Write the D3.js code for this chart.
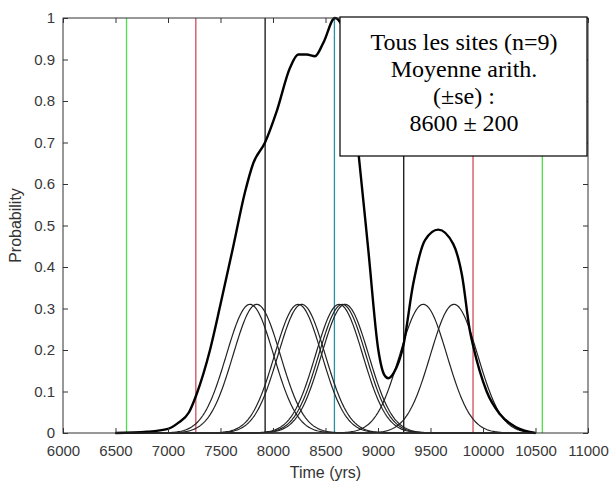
<!DOCTYPE html>
<html>
<head>
<meta charset="utf-8">
<script src="https://d3js.org/d3.v7.min.js"></script>
<style>
  body { margin: 0; background: #fff; }
  .axis text { font-family: "Liberation Sans", Arial, sans-serif; font-size: 15px; fill: #383838; }
  .axis path { display: none; }
  .axis line { stroke: #333; }
</style>
</head>
<body>
<div class="container"></div>
<script>
// values
var X_TICKS = [6000, 6500, 7000, 7500, 8000, 8500, 9000, 9500, 10000, 10500, 11000];
var Y_TICKS = [0, 0.1, 0.2, 0.3, 0.4, 0.5, 0.6, 0.7, 0.8, 0.9, 1];

// summed probability (thick curve)
var sumYears = [6500, 6800, 7000, 7100, 7200, 7273, 7400, 7500, 7622, 7733, 7812, 7924, 8035, 8162, 8241,
                8321, 8400, 8479, 8590, 8650, 8720, 8812, 8908, 9003, 9060, 9098, 9150, 9241, 9336, 9448,
                9574, 9717, 9800, 9876, 9906, 10035, 10162, 10321, 10500];
var sumProb  = [0, 0.003, 0.01, 0.025, 0.05, 0.094, 0.2, 0.31, 0.45, 0.58, 0.65, 0.70, 0.775, 0.88, 0.912,
                0.912, 0.908, 0.94, 1.0, 0.985, 0.88, 0.68, 0.44, 0.2, 0.14, 0.132, 0.145, 0.21, 0.36, 0.465,
                0.49, 0.455, 0.38, 0.245, 0.21, 0.10, 0.045, 0.013, 0];

// individual site dates (thin curves)
var siteDates = [7781, 7845, 8240, 8273, 8630, 8660, 8686, 9431, 9724];
var siteSigma = 225;
var sitePeak = 0.31;

// mean and +-1/2/3 sd reference lines
var refYears = [6605, 7265, 7925, 8585, 9245, 9905, 10565];
var refKinds = ['sd3', 'sd2', 'sd1', 'mean', 'sd1', 'sd2', 'sd3'];

var boxLines = ['Tous les sites (n=9)', 'Moyenne arith.', '(\u00b1se) :', '8600 \u00b1 200'];

const WIDTH = 611;
const HEIGHT = 483;
const MARGIN = {top: 18, right: 23, bottom: 50, left: 63};
const INNER_WIDTH = WIDTH - MARGIN.left - MARGIN.right;
const INNER_HEIGHT = HEIGHT - MARGIN.top - MARGIN.bottom;
const KIND_COLOR = {sd3: '#4be04b', sd2: '#d24a5c', sd1: '#111', mean: '#2a8ea0'};

var _svg, _g, _xScale, _yScale;

var translate = function (x, y) {
  return "translate(" + x + "," + y + ")";
};

var bell = function (mu) {
  return d3.range(6500, 10501, 10).map(function (t) {
    return [t, sitePeak * Math.exp(-(t - mu) * (t - mu) / (2 * siteSigma * siteSigma))];
  });
};

var onload = function () {
  _svg = d3.select('.container').append('svg')
    .attr('width', WIDTH)
    .attr('height', HEIGHT);

  _g = _svg.append('g').attr('transform', translate(MARGIN.left, MARGIN.top));

  _xScale = d3.scaleLinear().domain([6000, 11000]).range([0, INNER_WIDTH]);
  _yScale = d3.scaleLinear().domain([0, 1]).range([INNER_HEIGHT, 0]);

  // reference lines
  _g.selectAll('.ref').data(refYears).enter().append('line')
    .attr('x1', function (d) { return _xScale(d); })
    .attr('x2', function (d) { return _xScale(d); })
    .attr('y1', 0).attr('y2', INNER_HEIGHT)
    .attr('stroke', function (d, i) { return KIND_COLOR[refKinds[i]]; })
    .attr('stroke-width', 1.3);

  var line = d3.line()
    .x(function (d) { return _xScale(d[0]); })
    .y(function (d) { return _yScale(d[1]); });

  _g.selectAll('.site').data(siteDates).enter().append('path')
    .attr('d', function (d) { return line(bell(d)); })
    .attr('fill', 'none')
    .attr('stroke', '#222')
    .attr('stroke-width', 1.2);

  var sumLine = d3.line()
    .x(function (d) { return _xScale(d[0]); })
    .y(function (d) { return _yScale(d[1]); })
    .curve(d3.curveMonotoneX);

  _g.append('path')
    .attr('d', sumLine(sumYears.map(function (t, i) { return [t, sumProb[i]]; })))
    .attr('fill', 'none')
    .attr('stroke', '#000')
    .attr('stroke-width', 2.4);

  // axes with inward ticks, MATLAB style
  _g.append('g').attr('class', 'axis')
    .attr('transform', translate(0, INNER_HEIGHT))
    .call(d3.axisBottom(_xScale).tickValues(X_TICKS).tickFormat(d3.format('d'))
      .tickSizeInner(-5).tickSizeOuter(0).tickPadding(12));
  _g.append('g').attr('class', 'axis')
    .call(d3.axisTop(_xScale).tickValues(X_TICKS).tickFormat('')
      .tickSizeInner(-5).tickSizeOuter(0));
  _g.append('g').attr('class', 'axis')
    .call(d3.axisLeft(_yScale).tickValues(Y_TICKS).tickFormat(d3.format('~g'))
      .tickSizeInner(-5).tickSizeOuter(0).tickPadding(8));
  _g.append('g').attr('class', 'axis')
    .attr('transform', translate(INNER_WIDTH, 0))
    .call(d3.axisRight(_yScale).tickValues(Y_TICKS).tickFormat('')
      .tickSizeInner(-5).tickSizeOuter(0));

  _g.append('rect')
    .attr('width', INNER_WIDTH).attr('height', INNER_HEIGHT)
    .attr('fill', 'none').attr('stroke', '#333').attr('stroke-width', 1);

  // annotation box
  var box = _svg.append('g').attr('transform', translate(340, 17));
  box.append('rect')
    .attr('width', 247).attr('height', 139)
    .attr('fill', '#fff').attr('stroke', '#000').attr('stroke-width', 1.2);
  box.selectAll('text').data(boxLines).enter().append('text')
    .attr('x', 124)
    .attr('y', function (d, i) { return 33 + i * 27; })
    .attr('text-anchor', 'middle')
    .style('font-family', '"Liberation Serif", "Times New Roman", serif')
    .style('font-size', '24px')
    .text(function (d) { return d; });

  // axis titles
  _svg.append('text')
    .attr('x', MARGIN.left + INNER_WIDTH / 2).attr('y', 478)
    .attr('text-anchor', 'middle')
    .style('font-family', '"Liberation Sans", Arial, sans-serif')
    .style('font-size', '16px').style('fill', '#333')
    .text('Time (yrs)');

  _svg.append('text')
    .attr('transform', translate(21, MARGIN.top + INNER_HEIGHT / 2) + ' rotate(-90)')
    .attr('text-anchor', 'middle')
    .style('font-family', '"Liberation Sans", Arial, sans-serif')
    .style('font-size', '16px').style('fill', '#333')
    .text('Probability');
};

window.onload = onload;
</script>
</body>
</html>
